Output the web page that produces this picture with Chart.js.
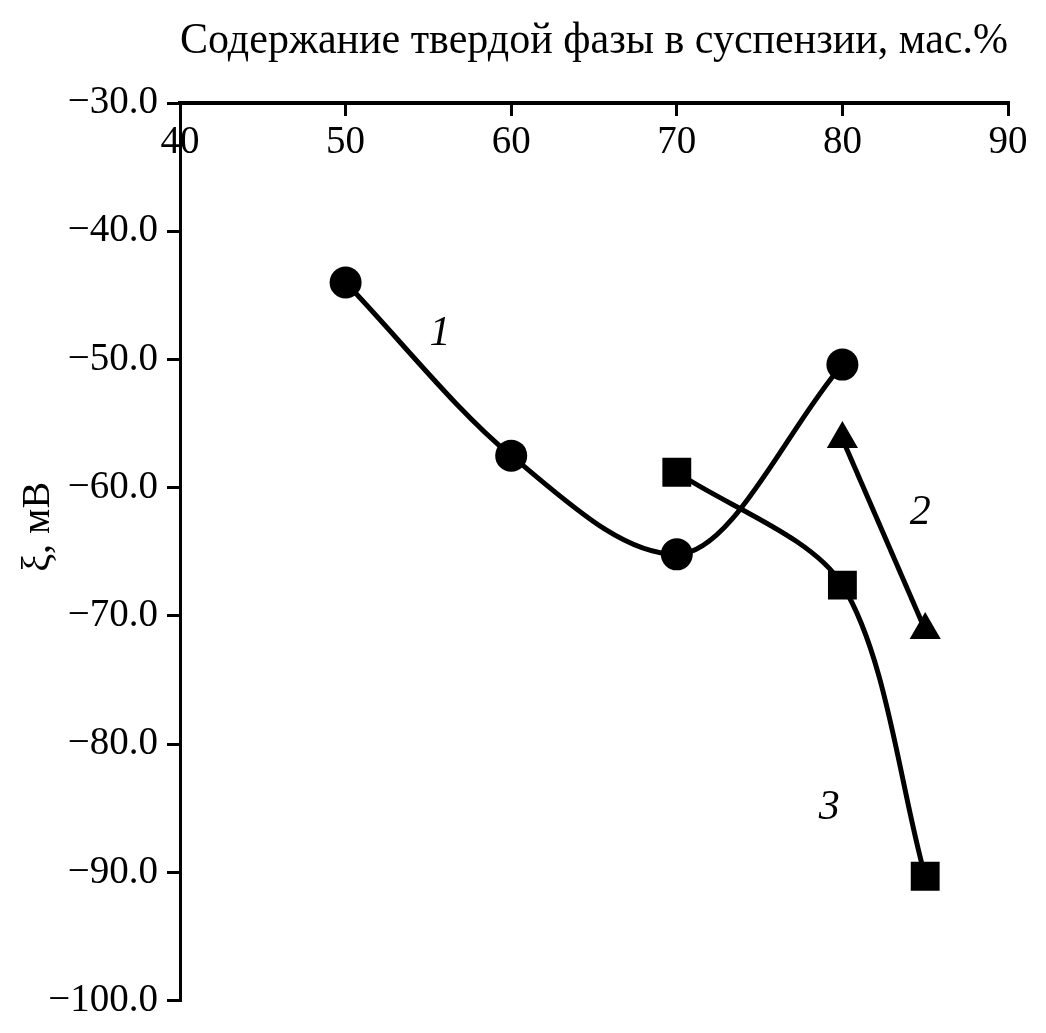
<!DOCTYPE html>
<html>
<head>
<meta charset="utf-8">
<script src="https://cdn.jsdelivr.net/npm/chart.js@4"></script>
<style>
  body { margin: 0; background: #fff; }
  #wrap { width: 1046px; height: 1033px; }
</style>
</head>
<body>
<div id="wrap"><canvas id="zetaChart"></canvas></div>
<script>
// curve 1 (circles), curve 2 (triangles), curve 3 (squares)
const x1 = [50, 60, 70, 80];
const y1 = [-44.0, -57.5, -65.2, -50.4];
const x2 = [80, 85];
const y2 = [-56.2, -71.1];
const x3 = [70, 80, 85];
const y3 = [-58.8, -67.6, -90.3];

const xTicks = [40, 50, 60, 70, 80, 90];
const yTicks = [-30, -40, -50, -60, -70, -80, -90, -100];

// curve numbers, placed in data units
const curveNames = ['1', '2', '3'];
const curveNameX = [55.7, 84.7, 79.2];
const curveNameY = [-48.0, -62.0, -85.0];

const serif = '"Liberation Serif", "Times New Roman", serif';

function pts(xs, ys) {
    return xs.map((x, i) => ({ x: x, y: ys[i] }));
}

const curveNumbers = {
    id: 'curveNumbers',
    afterDatasetsDraw(chart) {
        const c = chart.ctx;
        const sx = chart.scales.x, sy = chart.scales.y;
        c.save();
        c.fillStyle = '#000';
        c.font = 'italic 42px ' + serif;
        c.textAlign = 'center';
        c.textBaseline = 'middle';
        curveNames.forEach((t, i) => {
            c.fillText(t, sx.getPixelForValue(curveNameX[i]), sy.getPixelForValue(curveNameY[i]));
        });
        c.restore();
    }
};

const ctx = document.getElementById('zetaChart').getContext('2d');

new Chart(ctx, {
    type: 'line',
    data: {
        datasets: [{
            data: pts(x1, y1),
            borderColor: '#000',
            backgroundColor: '#000',
            borderWidth: 5,
            pointStyle: 'circle',
            pointRadius: 16,
            pointBorderWidth: 0,
            cubicInterpolationMode: 'monotone',
        }, {
            data: pts(x2, y2),
            borderColor: '#000',
            backgroundColor: '#000',
            borderWidth: 5,
            pointStyle: 'triangle',
            pointRadius: 18,
            pointBorderWidth: 0,
            tension: 0,
        }, {
            data: pts(x3, y3),
            borderColor: '#000',
            backgroundColor: '#000',
            borderWidth: 5,
            pointStyle: 'rect',
            pointRadius: 19,
            pointBorderWidth: 2,
            pointBorderColor: '#000',
            tension: 0.3,
        }]
    },
    options: {
        responsive: true,
        maintainAspectRatio: false,
        animation: false,
        layout: { padding: { left: 0, top: 0, right: 38, bottom: 29 } },
        scales: {
            x: {
                type: 'linear',
                position: 'top',
                min: 40,
                max: 90,
                afterBuildTicks: s => { s.ticks = xTicks.map(v => ({ value: v })); },
                afterFit: s => { s.height = 103; },
                grid: {
                    drawOnChartArea: false,
                    tickLength: -13,
                    color: '#000',
                    lineWidth: 3,
                },
                border: { color: '#000', width: 4 },
                ticks: {
                    mirror: true,
                    padding: 16,
                    color: '#000',
                    font: { family: serif, size: 39 },
                    maxRotation: 0,
                },
                title: {
                    display: true,
                    text: 'Содержание твердой фазы в суспензии, мас.%',
                    color: '#000',
                    font: { family: serif, size: 44 },
                    padding: { top: 15, bottom: 0 },
                }
            },
            y: {
                type: 'linear',
                min: -100,
                max: -30,
                afterBuildTicks: s => { s.ticks = yTicks.map(v => ({ value: v })); },
                afterFit: s => { s.width = 180; },
                grid: {
                    drawOnChartArea: false,
                    tickLength: 13,
                    color: '#000',
                    lineWidth: 3,
                },
                border: { color: '#000', width: 3 },
                ticks: {
                    padding: 9,
                    color: '#000',
                    font: { family: serif, size: 39 },
                    callback: v => '\u2212' + Math.abs(v).toFixed(1),
                },
                title: {
                    display: true,
                    text: '\u00a0\u00a0\u00a0\u00a0\u00a0ξ, мВ',
                    color: '#000',
                    font: { family: serif, size: 40 },
                    padding: { top: 14, bottom: 0 },
                }
            }
        },
        plugins: {
            legend: { display: false },
            tooltip: { enabled: false },
        }
    },
    plugins: [curveNumbers]
});
</script>
</body>
</html>
